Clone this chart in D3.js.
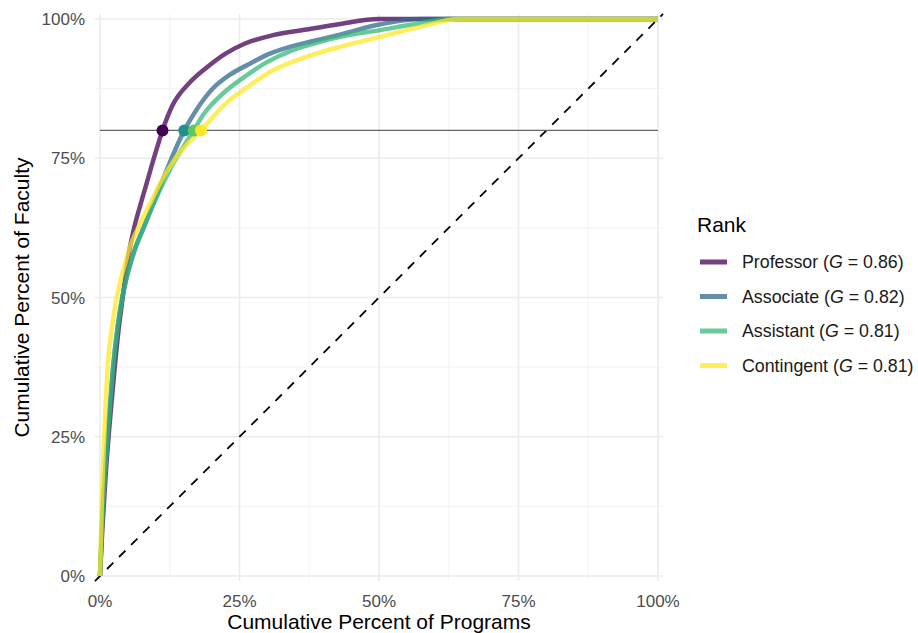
<!DOCTYPE html>
<html><head><meta charset="utf-8">
<script src="https://cdn.jsdelivr.net/npm/d3@7"></script>
<style>body{margin:0;background:#fff;font-family:"Liberation Sans",Arial,Helvetica,sans-serif;}</style>
</head><body><svg id="c" width="918" height="633"></svg>
<script>
const ranks = ["Professor","Associate","Assistant","Contingent"];
const giniLabels = ["0.86","0.82","0.81","0.81"];
const lineColors = ["#440154","#31688E","#35B779","#FDE725"];
const dotColors = ["#440154","#21908C","#5DC863","#FDE725"];
const profX = [0,0.4,1,1.7,2.5,3.3,4.2,5,6,7.2,8.5,9.8,11.2,13,16,19,22.5,26,31,37,43,50,100];
const profY = [0,8,18,27,36,44,51,57,62,66.5,71,75.5,80,84.5,88.5,91.2,93.8,95.6,97.1,98.1,99.1,100,100];
const assocX = [0,0.4,1,1.6,2.4,3.2,4,5,6.2,7.8,9.8,12.2,15.1,17.3,20.3,23.3,26.9,30,34,38,43,50,57.5,100];
const assocY = [0,10,20,28,38,45,50,54.5,58.5,62.5,67.5,73.5,80,83.7,87.6,90,92,93.6,95,96,97.2,99,100,100];
const assistX = [0,0.4,1,1.6,2.4,3.2,4,5,6.2,7.8,9.9,12.8,16.8,18.5,22.1,26.3,30,34,38,43,50.2,56,62.7,100];
const assistY = [0,10,20,28,38,45,50,54.5,58.5,62.5,67.5,73.5,80,82.8,86.7,89.9,92.3,94.2,95.5,96.8,98,99,100,100];
const contX = [0,0.3,0.8,1.4,2.2,3,3.8,4.5,5.5,6.6,7.8,9.3,10.5,13.5,18.1,23.3,25.1,30.5,37,43,50.2,57,64.5,100];
const contY = [0,12,26,38,45,50,53.5,56,59.5,62,64.5,67.5,70,75,80,85.5,86.8,90.5,93.2,95,96.8,98.5,100,100];
const dotX = [11.2,15.1,16.8,18.1];
const dotY = 80;
const xTicks = [0,25,50,75,100];
const yTicks = [0,25,50,75,100];
const minorTicks = [12.5,37.5,62.5,87.5];

const seriesX = [profX,assocX,assistX,contX];
const seriesY = [profY,assocY,assistY,contY];

const svg = d3.select("#c");
const x = d3.scaleLinear().domain([0,100]).range([100,658]);
const y = d3.scaleLinear().domain([0,100]).range([576,19]);
const ex = 0.9;
const x0 = x(-ex), x1 = x(100+ex), y0 = y(-ex), y1 = y(100+ex);

const g = svg.append("g");
minorTicks.forEach(t=>{
  g.append("line").attr("x1",x(t)).attr("x2",x(t)).attr("y1",y0).attr("y2",y1).attr("stroke","#f2f2f2").attr("stroke-width",0.9);
  g.append("line").attr("y1",y(t)).attr("y2",y(t)).attr("x1",x0).attr("x2",x1).attr("stroke","#f2f2f2").attr("stroke-width",0.9);
});
xTicks.forEach(t=>{
  g.append("line").attr("x1",x(t)).attr("x2",x(t)).attr("y1",y0).attr("y2",y1).attr("stroke","#ebebeb").attr("stroke-width",1.6);
});
yTicks.forEach(t=>{
  g.append("line").attr("y1",y(t)).attr("y2",y(t)).attr("x1",x0).attr("x2",x1).attr("stroke","#ebebeb").attr("stroke-width",1.6);
});

g.append("line").attr("x1",x(-ex)).attr("y1",y(-ex)).attr("x2",x(100+ex)).attr("y2",y(100+ex))
  .attr("stroke","#000").attr("stroke-width",1.8).attr("stroke-dasharray","9,8");
g.append("line").attr("x1",x(0)).attr("x2",x(100)).attr("y1",y(80)).attr("y2",y(80))
  .attr("stroke","#666").attr("stroke-width",1.4);

const line = d3.line().x(d=>x(d[0])).y(d=>y(d[1])).curve(d3.curveMonotoneX);
ranks.forEach((r,i)=>{
  const pts = seriesX[i].map((v,j)=>[v,seriesY[i][j]]);
  g.append("path").attr("d",line(pts)).attr("fill","none").attr("stroke",lineColors[i])
   .attr("stroke-opacity",0.75).attr("stroke-width",4.5).attr("stroke-linejoin","round");
});
ranks.forEach((r,i)=>{
  g.append("circle").attr("cx",x(dotX[i])).attr("cy",y(dotY)).attr("r",6).attr("fill",dotColors[i]);
});

const fmt = d=>d+"%";
const ax = svg.append("g").attr("fill","#4d4d4d").attr("font-size","17px");
xTicks.forEach(t=>{
  ax.append("text").attr("x",x(t)).attr("y",607).attr("text-anchor","middle").text(fmt(t));
});
yTicks.forEach(t=>{
  ax.append("text").attr("x",85).attr("y",y(t)+6).attr("text-anchor","end").text(fmt(t));
});
svg.append("text").attr("x",x(50)).attr("y",629).attr("text-anchor","middle").attr("font-size","21px").attr("fill","#000").text("Cumulative Percent of Programs");
svg.append("text").attr("transform",`translate(29,${y(50)}) rotate(-90)`).attr("text-anchor","middle").attr("font-size","21px").attr("fill","#000").text("Cumulative Percent of Faculty");

const lg = svg.append("g");
lg.append("text").attr("x",697).attr("y",232).attr("font-size","21px").attr("fill","#000").text("Rank");
ranks.forEach((r,i)=>{
  const yy = 262 + i*34.5;
  lg.append("line").attr("x1",700).attr("x2",727).attr("y1",yy).attr("y2",yy).attr("stroke",lineColors[i]).attr("stroke-opacity",0.75).attr("stroke-width",5);
  const t = lg.append("text").attr("x",742).attr("y",yy+6).attr("font-size","17.8px").attr("fill","#1a1a1a");
  t.append("tspan").text(r+" (");
  t.append("tspan").attr("font-style","italic").text("G");
  t.append("tspan").text(" = "+giniLabels[i]+")");
});
</script></body></html>
